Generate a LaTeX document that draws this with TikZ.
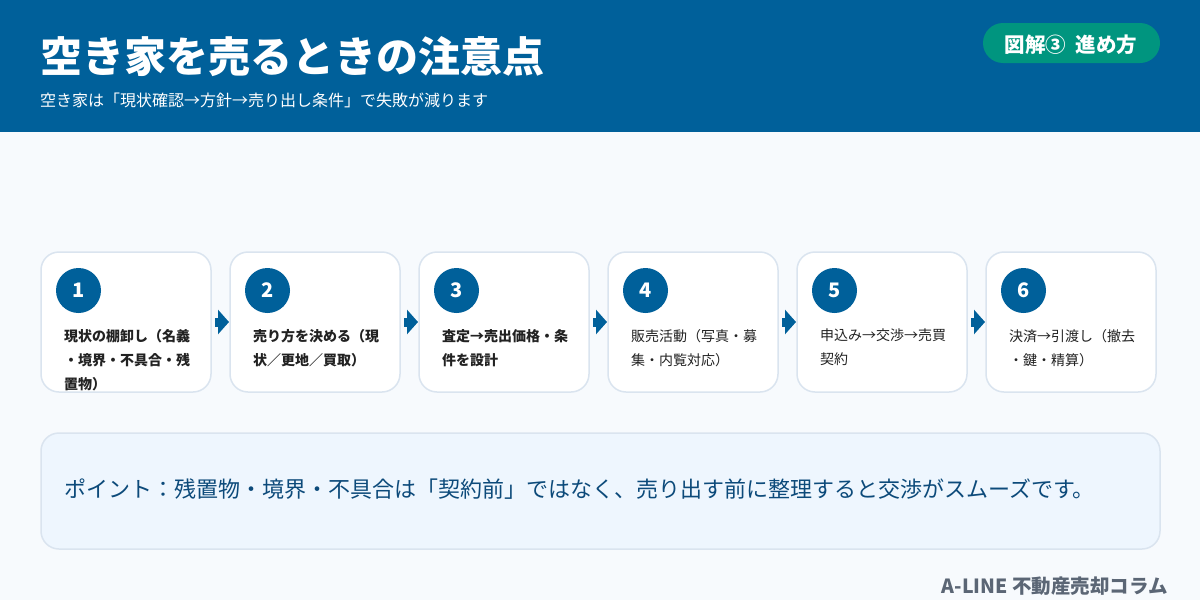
\documentclass[tikz,border=0pt]{standalone}
\usepackage{fontspec}
\setmainfont{Noto Sans CJK JP}
\usetikzlibrary{arrows.meta}
\definecolor{hdr}{HTML}{00609A}
\definecolor{teal}{HTML}{00957F}
\definecolor{bg}{HTML}{F7FAFD}
\definecolor{cardline}{HTML}{DAE4EF}
\definecolor{notefill}{HTML}{EEF6FE}
\definecolor{notetext}{HTML}{0C4A7A}
\definecolor{foot}{HTML}{5B6675}
\definecolor{bodytext}{HTML}{222222}
\tikzset{
  card/.style={draw=cardline, line width=1.5pt, fill=white, rounded corners=18pt},
  numdot/.style={circle, fill=hdr, minimum size=45pt, inner sep=0pt, text=white, font=\fontsize{20}{20}\selectfont\bfseries},
  cardtext/.style={anchor=north west, inner sep=0pt, align=left, text=bodytext},
  flow/.style={draw=hdr, line width=9pt, -{Triangle[length=11pt,width=24pt]}, shorten <=4pt, shorten >=1pt},
}
\begin{document}
\begin{tikzpicture}[x=1pt,y=-1pt]
\useasboundingbox (0,0) rectangle (1200,600);
\fill[bg] (0,0) rectangle (1200,600);
\fill[hdr] (0,0) rectangle (1200,132);
\node[anchor=west, inner sep=0pt, text=white, font=\fontsize{42}{42}\selectfont\bfseries] (title) at (40,57) {空き家を売るときの注意点};
\node[anchor=west, inner sep=0pt, text=white, font=\fontsize{16}{16}\selectfont] (sub) at (40,100) {空き家は「現状確認→方針→売り出し条件」で失敗が減ります};
\fill[teal, rounded corners=20pt] (983,23) rectangle (1160,63);
\node[inner sep=0pt, text=white, font=\fontsize{20.5}{21}\selectfont\bfseries] (badge) at (1071,44.5) {図解③\hspace{5pt} 進め方};
\foreach \i/\x/\txt/\f in {
  1/41/{現状の棚卸し（名義\\・境界・不具合・残\\置物）}/\bfseries,
  2/230/{売り方を決める（現\\状／更地／買取）}/\bfseries,
  3/419/{査定→売出価格・条\\件を設計}/\bfseries,
  4/608/{販売活動（写真・募\\集・内覧対応）}/,
  5/797/{申込み→交渉→売買\\契約}/,
  6/986/{決済→引渡し（撤去\\・鍵・精算）}/}{
  \draw[card] (\x,252) rectangle (\x+170,392);
  \coordinate (c\i w) at (\x,322);
  \coordinate (c\i e) at (\x+170,322);
  \node[numdot] (n\i) at (\x+37.5,290.5) {\i};
  \node[cardtext, font=\fontsize{14}{24}\selectfont\f] (t\i) at (\x+23,329) {\txt};
}
\foreach \i/\j in {1/2,2/3,3/4,4/5,5/6}{
  \draw[flow] (c\i e) -- (c\j w);
}
\draw[draw=cardline, line width=1.5pt, fill=notefill, rounded corners=18pt] (41,433) rectangle (1160,549);
\node[anchor=west, inner sep=0pt, text=notetext, font=\fontsize{22}{22}\selectfont] (note) at (64,489) {ポイント：残置物・境界・不具合は「契約前」ではなく、売り出す前に整理すると交渉がスムーズです。};
\node[anchor=east, inner sep=0pt, text=foot, font=\fontsize{19.5}{20}\selectfont\bfseries] (footer) at (1168,586) {A-LINE 不動産売却コラム};
\end{tikzpicture}
\end{document}
